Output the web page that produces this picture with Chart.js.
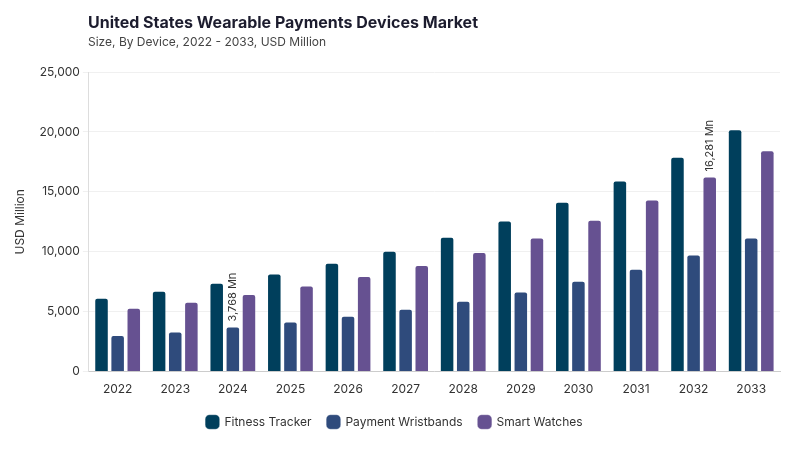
<!DOCTYPE html>
<html>
<head>
<meta charset="utf-8">
<script src="https://cdn.jsdelivr.net/npm/chart.js@4.4.1/dist/chart.umd.min.js"></script>
<style>
  html, body { margin: 0; padding: 0; background: #fff; }
  #wrap { position: relative; width: 800px; height: 450px; font-family: Inter, "Noto Sans", sans-serif; }
  #title { position: absolute; left: 88px; top: 12px; font-size: 16px; font-weight: 700; color: #1c1c2e; }
  #subtitle { position: absolute; left: 88px; top: 34px; font-size: 12px; color: #444; }
  canvas { position: absolute; left: 0; top: 0; }
</style>
</head>
<body>
<div id="wrap">
  <canvas id="chart" width="800" height="450"></canvas>
  <div id="title">United States Wearable Payments Devices Market</div>
  <div id="subtitle">Size, By Device, 2022 - 2033, USD Million</div>
</div>
<script>
// values (USD Million)
const years = ["2022", "2023", "2024", "2025", "2026", "2027", "2028", "2029", "2030", "2031", "2032", "2033"];
const fitnessTracker = [6160, 6750, 7410, 8190, 9090, 10090, 11260, 12600, 14170, 15940, 17920, 20230];
const paymentWristbands = [3060, 3340, 3768, 4180, 4660, 5240, 5910, 6690, 7580, 8590, 9780, 11180];
const smartWatches = [5330, 5830, 6470, 7190, 7970, 8890, 9980, 11200, 12670, 14360, 16281, 18480];

// which bars get a rotated value label: [datasetIndex, dataIndex]
const labelled = [[1, 2], [2, 10]];

const valueLabels = {
    id: "valueLabels",
    afterDatasetsDraw(chart) {
        let ctx = chart.ctx;
        ctx.save();
        ctx.font = "11px Inter, 'Noto Sans', sans-serif";
        ctx.fillStyle = "#333";
        ctx.textAlign = "left";
        ctx.textBaseline = "middle";
        labelled.forEach(([ds, i]) => {
            let bar = chart.getDatasetMeta(ds).data[i];
            let v = chart.data.datasets[ds].data[i];
            ctx.save();
            ctx.translate(bar.x, bar.y - 5);
            ctx.rotate(-Math.PI / 2);
            ctx.fillText(v.toLocaleString("en-US") + " Mn", 0, 0);
            ctx.restore();
        });
        ctx.restore();
    }
};

const barStyle = { borderRadius: { topLeft: 3, topRight: 3 }, borderSkipped: "bottom", borderWidth: 1, borderColor: "rgba(255,255,255,0.35)" };

new Chart(document.getElementById("chart").getContext("2d"), {
    type: "bar",
    data: {
        labels: years,
        datasets: [
            { label: "Fitness Tracker", data: fitnessTracker, backgroundColor: "#003f5c", ...barStyle },
            { label: "Payment Wristbands", data: paymentWristbands, backgroundColor: "#2f4b7c", ...barStyle },
            { label: "Smart Watches", data: smartWatches, backgroundColor: "#665191", ...barStyle }
        ]
    },
    options: {
        responsive: false,
        animation: false,
        categoryPercentage: 0.84,
        barPercentage: 0.9,
        layout: { padding: { top: 72, right: 20, left: 9, bottom: 12 } },
        scales: {
            x: {
                grid: { display: false },
                border: { color: "#ccc" },
                ticks: { color: "#333", font: { size: 12, family: "Inter, 'Noto Sans', sans-serif" }, padding: 3 }
            },
            y: {
                min: 0,
                max: 25000,
                ticks: {
                    stepSize: 5000,
                    color: "#333",
                    font: { size: 12, family: "Inter, 'Noto Sans', sans-serif" },
                    callback: v => v.toLocaleString("en-US")
                },
                grid: { color: "#f0f0f0", tickLength: 6 },
                border: { color: "#ddd" },
                title: {
                    display: true,
                    text: "USD Million",
                    color: "#333",
                    padding: { top: 4, bottom: 9 },
                    font: { size: 12, family: "Inter, 'Noto Sans', sans-serif" }
                }
            }
        },
        plugins: {
            legend: {
                position: "bottom",
                labels: {
                    usePointStyle: true,
                    pointStyle: "rectRounded",
                    boxWidth: 14,
                    boxHeight: 14,
                    padding: 16,
                    color: "#333",
                    font: { size: 12, family: "Inter, 'Noto Sans', sans-serif" }
                }
            },
            tooltip: { enabled: false }
        }
    },
    plugins: [valueLabels]
});
</script>
</body>
</html>
